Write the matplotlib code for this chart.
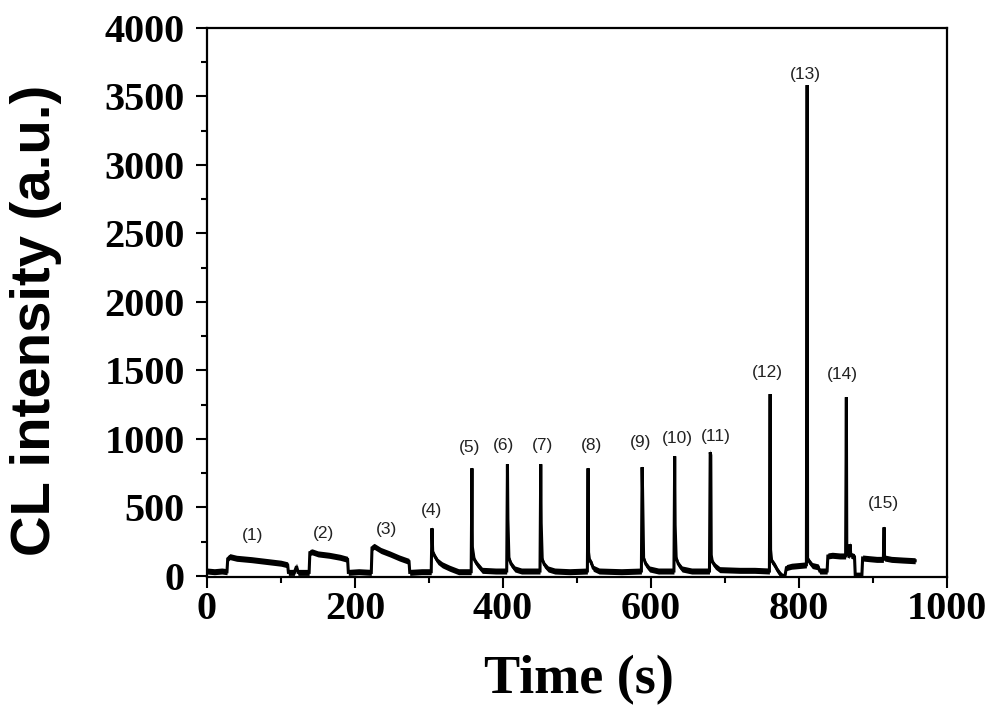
import matplotlib
matplotlib.use("Agg")
import matplotlib.pyplot as plt
import numpy as np
from matplotlib.ticker import MultipleLocator

# CL trace: time (s) and intensity (a.u.)
time = [0, 10, 20, 27, 28, 31, 40, 60, 80, 100, 109, 110, 118, 121, 123, 138,
        139, 142, 150, 165, 180, 190, 191, 205, 222, 223, 226, 235, 247, 260, 273, 274,
        290, 303, 304, 305, 308, 312, 318, 328, 340, 357, 358, 358.6, 361, 365, 372,
        390, 405, 406, 406.6, 408, 411, 416, 425, 440, 450, 451, 451.6, 453, 456, 461, 470,
        490, 514, 515, 515.6, 517, 519, 522, 530, 560, 587, 588, 588.6, 590, 593, 598, 610,
        631, 632, 632.6, 634, 637, 642, 655, 679, 680, 680.8, 681.4, 683, 687, 693, 720,
        740, 760, 761, 761.6, 763, 767, 771, 775, 778, 781, 783, 790, 800, 810, 811, 811.6,
        813, 818, 826, 828, 838, 839, 845, 855, 863, 864, 864.6, 868, 869, 870, 875, 876,
        885, 886, 895, 905, 914, 915, 915.6, 925, 940, 957]
intensity = [35, 30, 35, 30, 125, 140, 128, 118, 105, 92, 80, 25, 25, 70, 25, 25,
             170, 175, 160, 150, 135, 120, 25, 30, 25, 205, 215, 185, 160, 130, 105, 25,
             30, 30, 347, 175, 140, 105, 80, 55, 30, 30, 785, 210, 120, 85, 40,
             35, 35, 815, 413, 130, 85, 50, 35, 35, 35, 815, 384, 120, 80, 50, 35,
             30, 35, 785, 172, 110, 100, 55, 35, 30, 35, 793, 625, 130, 85, 50, 35,
             35, 873, 369, 130, 85, 50, 35, 35, 902, 880, 150, 100, 70, 45, 40,
             40, 35, 1327, 190, 110, 80, 40, 10, -5, 0, 60, 70, 75, 80, 3583, 130,
             110, 75, 65, 35, 35, 145, 150, 145, 145, 1304, 160, 150, 230, 150, 140, 5,
             5, 130, 125, 120, 120, 354, 130, 120, 115, 110]

# peak labels and where they sit (data coords)
peak_labels = ["(1)", "(2)", "(3)", "(4)", "(5)", "(6)", "(7)", "(8)", "(9)", "(10)",
               "(11)", "(12)", "(13)", "(14)", "(15)"]
label_t = [61, 157, 242, 304, 355, 400, 454, 519, 586, 635, 688, 757, 808, 858, 914]
label_v = [296, 310, 340, 478, 939, 954, 954, 954, 976, 1005, 1019, 1486, 3663, 1468, 530]

fig = plt.figure(figsize=(10, 7.17), dpi=100)
ax = fig.add_axes([0.207, 0.195, 0.74, 0.766])

# the recorded trace is noisy, so draw it with a band round the line
t = np.array(time, dtype=float)
v = np.array(intensity, dtype=float)
ax.fill_between(t, v - 22, v + 22, color="black", lw=0)
ax.plot(t, v, color="black", lw=2.2, solid_joinstyle="miter")

for lab, x, y in zip(peak_labels, label_t, label_v):
    ax.text(x, y, lab, ha="center", va="center", fontsize=12.5,
            family="Liberation Sans", color="#222222")

ax.set_xlim(0, 1000)
ax.set_ylim(-10, 4000)
ax.xaxis.set_major_locator(MultipleLocator(200))
ax.xaxis.set_minor_locator(MultipleLocator(100))
ax.yaxis.set_major_locator(MultipleLocator(500))
ax.yaxis.set_minor_locator(MultipleLocator(250))

ax.tick_params(which="both", direction="out", top=False, right=False, width=1.5)
ax.tick_params(which="major", length=8)
ax.tick_params(which="minor", length=4)
ax.tick_params(axis="x", which="major", pad=2)
ax.tick_params(axis="y", which="major", pad=8)
for lab in ax.get_xticklabels() + ax.get_yticklabels():
    lab.set_fontfamily("Liberation Serif")
    lab.set_fontweight("bold")
    lab.set_fontsize(29)

for s in ax.spines.values():
    s.set_linewidth(1.6)

fig.text(0.579, 1 - 693 / 717, "Time (s)", ha="center", va="baseline",
         fontsize=39, family="Liberation Serif", weight="bold")
fig.text(0.036, 1 - 320 / 717, "CL intensity (a.u.)", rotation=90, ha="center",
         va="center", fontsize=40.5, family="Liberation Sans", weight="bold")

fig.savefig("out.png", dpi=100)
